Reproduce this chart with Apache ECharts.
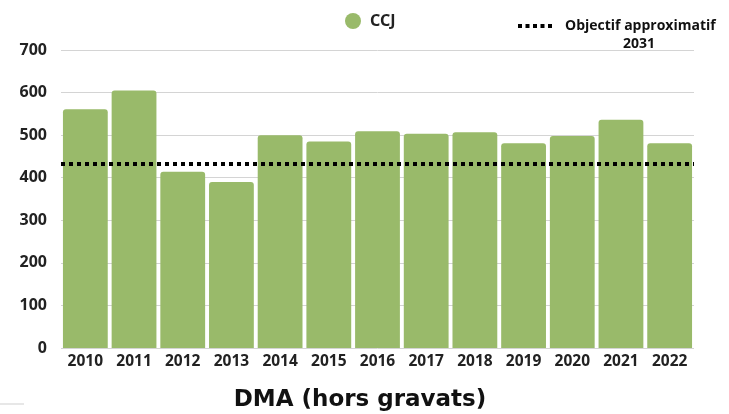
<!DOCTYPE html>
<html><head><meta charset="utf-8">
<script src="https://cdn.jsdelivr.net/npm/echarts@6/dist/echarts.min.js"></script>
<style>html,body{margin:0;padding:0;background:#fff}#c{width:729px;height:414px}</style>
</head><body><div id="c"></div>
<script>
const years = ['2010','2011','2012','2013','2014','2015','2016','2017','2018','2019','2020','2021','2022'];
const ccj = [561, 605, 414, 390, 500, 485, 509, 503, 507, 481, 498, 536, 481];
const objectif = 432;
const yTicks = [0, 100, 200, 300, 400, 500, 600, 700];

const chart = echarts.init(document.getElementById('c'));
chart.setOption({
  animation: false,
  title: {
    text: 'DMA (hors gravats)', left: 355, textAlign: 'center', top: 384,
    textStyle: {fontFamily: 'DejaVu Sans', fontWeight: 'bold', fontSize: 23, color: '#111'}
  },
  legend: [
    {data: ['CCJ'], left: 345, top: 13, padding: 0, icon: 'circle', itemWidth: 16, itemHeight: 16,
     textStyle: {fontFamily: 'Noto Sans', fontSize: 16, fontWeight: 'bold', color: '#222', padding: [0, 0, 0, 4]}},
    {data: ['Objectif approximatif'], left: 518, top: 19, padding: 0, itemWidth: 34, itemHeight: 4,
     icon: 'path://M0,0h4v4h-4zM7.5,0h4v4h-4zM15,0h4v4h-4zM22.5,0h4v4h-4zM30,0h4v4h-4z',
     textStyle: {fontFamily: 'Open Sans', fontWeight: 'bold', fontSize: 14, color: '#111', padding: [0, 0, 0, 8]}}
  ],
  grid: {left: 61, right: 35, top: 50, bottom: 66},
  xAxis: {
    type: 'category', data: years,
    axisLine: {show: false}, axisTick: {show: false},
    axisLabel: {fontFamily: 'Noto Sans', fontSize: 15.5, fontWeight: 'bold', color: '#222', margin: 6}
  },
  yAxis: {
    type: 'value', min: 0, max: 700, interval: 100,
    axisLine: {show: false}, axisTick: {show: false},
    splitLine: {lineStyle: {color: '#d4d4d4', width: 1}},
    axisLabel: {fontFamily: 'Noto Sans', fontSize: 16, fontWeight: 'bold', color: '#222', margin: 14,
      formatter: v => yTicks.includes(v) ? String(v) : ''}
  },
  series: [
    {name: 'CCJ', type: 'bar', data: ccj, barCategoryGap: '8%',
     itemStyle: {color: '#99ba6a', borderRadius: [3, 3, 0, 0]}, z: 2},
    {name: 'Objectif approximatif', type: 'line', data: [], itemStyle: {color: '#000'},
     markLine: {symbol: 'none', silent: true, label: {show: false},
       lineStyle: {color: '#000', type: [4, 4], width: 4, cap: 'butt'},
       data: [{yAxis: objectif}]}, z: 5}
  ],
  graphic: [
    {type: 'line', shape: {x1: 0, y1: 404, x2: 24, y2: 404}, style: {stroke: '#cfcfcf', lineWidth: 1}},
    {type: 'text', left: 623, top: 37, style: {text: '2031', font: 'bold 14px "Open Sans"', fill: '#111'}}
  ]
});
</script></body></html>
